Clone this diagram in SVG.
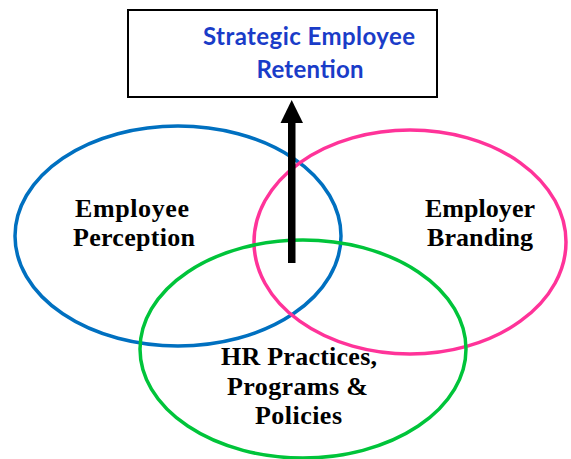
<svg xmlns="http://www.w3.org/2000/svg" width="571" height="459" viewBox="0 0 571 459">
  <style>
    .ring { fill: none; stroke-width: 3.5; }
    .lbl { font-family: "Liberation Serif", "Times New Roman", serif; font-weight: bold; font-size: 26px; fill: #000; text-anchor: middle; }
    .title { font-family: Lato, "Open Sans", "Liberation Sans", sans-serif; font-weight: bold; font-size: 24px; fill: #1a3cc8; text-anchor: middle; }
  </style>
  <rect width="571" height="459" fill="#fff"/>

  <g id="retention">
    <rect x="128" y="10" width="309" height="87" fill="#fff" stroke="#000" stroke-width="2"/>
    <text class="title" x="309" y="45" textLength="212" lengthAdjust="spacing">Strategic Employee</text>
    <text class="title" x="310" y="78" textLength="107" lengthAdjust="spacing">Retention</text>
  </g>

  <g id="perception">
    <ellipse class="ring" cx="178" cy="236" rx="163" ry="110" stroke="#0070c0"/>
    <text class="lbl" x="132" y="217" textLength="114" lengthAdjust="spacing">Employee</text>
    <text class="lbl" x="134" y="246" textLength="122" lengthAdjust="spacing">Perception</text>
  </g>

  <g id="branding">
    <ellipse class="ring" cx="410" cy="242" rx="156" ry="112" stroke="#ff3399"/>
    <text class="lbl" x="480" y="217" textLength="110" lengthAdjust="spacing">Employer</text>
    <text class="lbl" x="480" y="246" textLength="106" lengthAdjust="spacing">Branding</text>
  </g>

  <g id="practices">
    <ellipse class="ring" cx="303" cy="349" rx="163" ry="109" stroke="#00c43a"/>
    <text class="lbl" x="299" y="365" textLength="156" lengthAdjust="spacing">HR Practices,</text>
    <text class="lbl" x="297.5" y="395" textLength="141" lengthAdjust="spacing">Programs &amp;</text>
    <text class="lbl" x="298.5" y="424" textLength="87" lengthAdjust="spacing">Policies</text>
  </g>

  <g id="connectors">
    <rect x="288" y="121" width="7.5" height="142" fill="#000"/>
    <polygon points="291.7,100 303,123 280.5,123" fill="#000"/>
  </g>
</svg>
